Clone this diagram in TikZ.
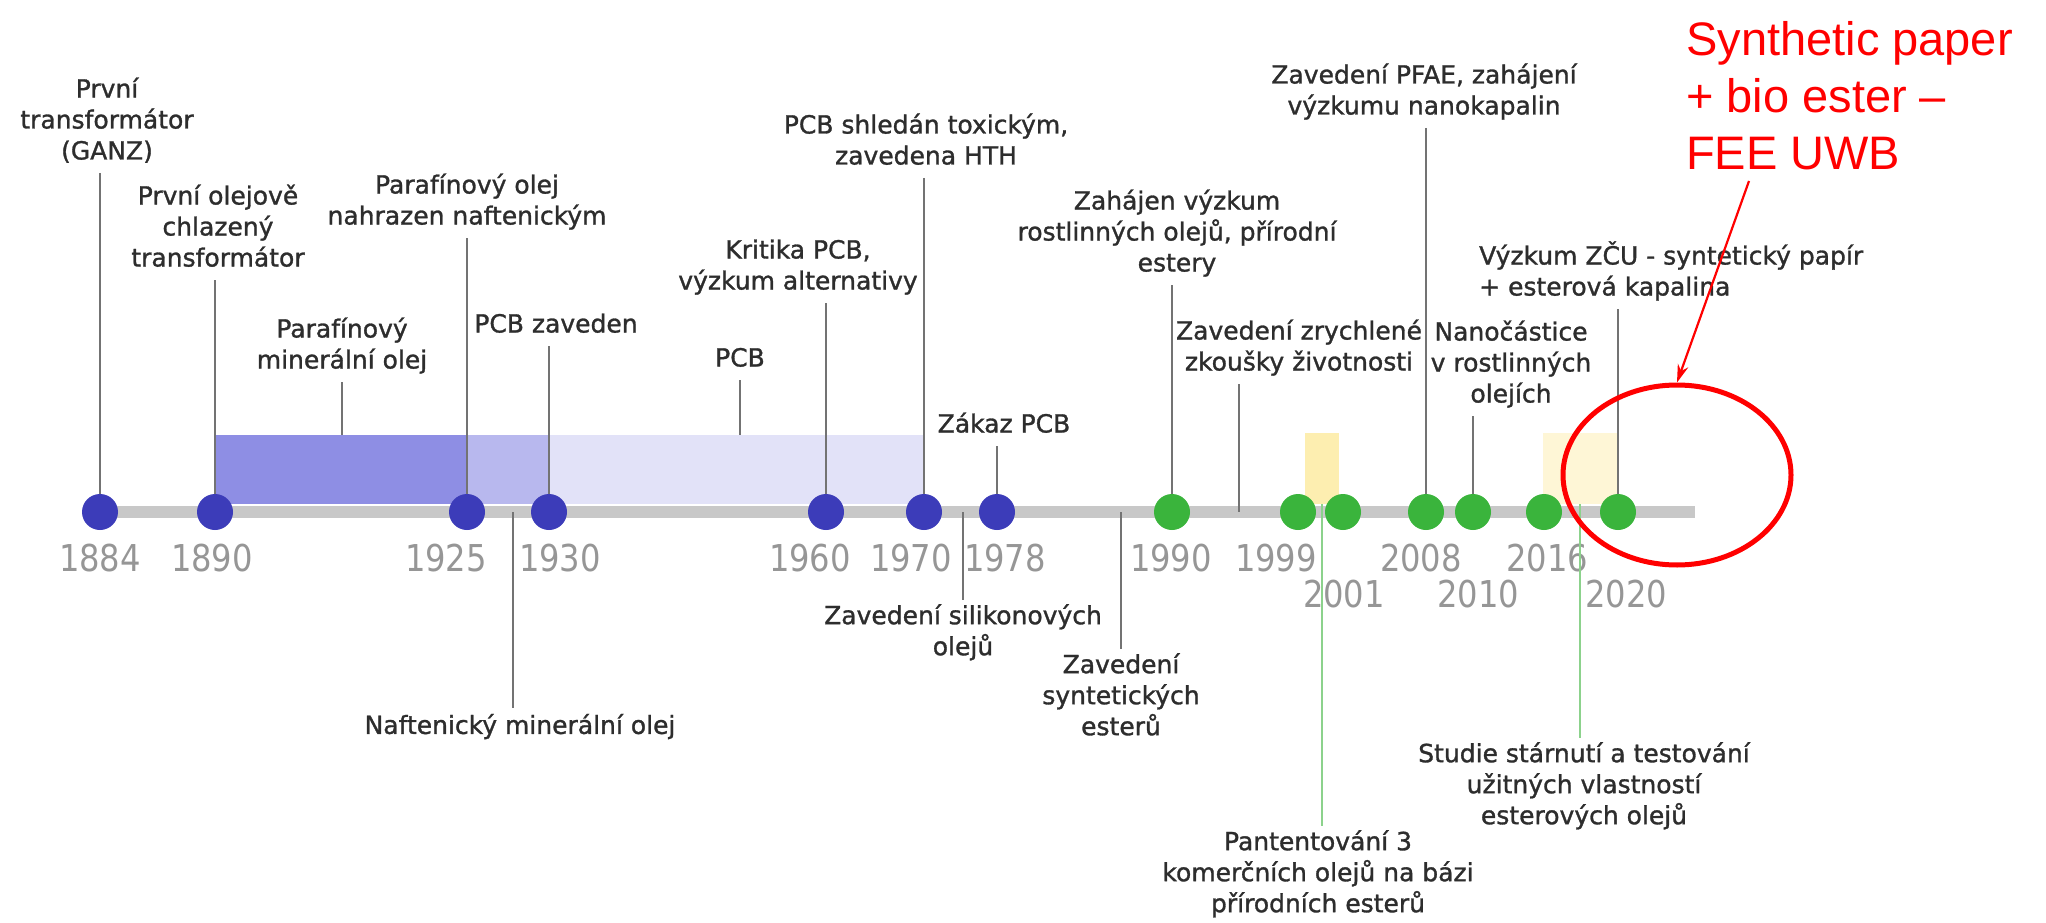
\documentclass[tikz,border=0pt]{standalone}
\usepackage{fontspec}
\setmainfont{DejaVu Sans}
\newfontfamily\labfont{DejaVu Sans}[FakeBold=1.2]
\newfontfamily\yearfont{DejaVu Sans}[FakeStretch=0.87]
\newfontfamily\notefont{Liberation Sans}
\usetikzlibrary{shapes.geometric, arrows.meta, positioning}

\definecolor{dotblue}{RGB}{60,60,185}
\definecolor{dotgreen}{RGB}{58,180,60}
\definecolor{bardark}{RGB}{142,142,228}
\definecolor{barmid}{RGB}{184,184,238}
\definecolor{barlight}{RGB}{226,226,248}
\definecolor{yelbar}{RGB}{253,238,176}
\definecolor{yelbarpale}{RGB}{254,246,214}
\definecolor{axisgray}{RGB}{200,200,200}
\definecolor{conngray}{RGB}{115,115,115}
\definecolor{conngreen}{RGB}{140,210,140}
\definecolor{yeargray}{RGB}{150,150,150}
\definecolor{labgray}{RGB}{45,45,45}
\definecolor{notered}{RGB}{255,0,0}

\begin{document}
\begin{tikzpicture}[x=1pt, y=-1pt,
    lbl/.style={font=\labfont\fontsize{25}{31}\selectfont, text=labgray, align=center, inner sep=4pt,
      execute at begin node={\strut}, execute at end node={\strut}},
    yr/.style={font=\yearfont\fontsize{37}{40}\selectfont, text=yeargray, inner sep=0pt},
    bdot/.style={circle, fill=dotblue, minimum size=36pt, inner sep=0pt},
    gdot/.style={circle, fill=dotgreen, minimum size=36pt, inner sep=0pt},
    bar/.style={rectangle, inner sep=0pt, minimum height=69pt, anchor=south west},
    conn/.style={draw=conngray, line width=1.5pt},
    gconn/.style={draw=conngreen, line width=1.5pt}]
    \useasboundingbox (0,0) rectangle (2046,923);

    % Bars
    \node[bar, fill=bardark, minimum width=252pt] (parbar) at (215,504) {};
    \node[bar, fill=barmid, minimum width=82pt] (nafbar) at (467,504) {};
    \node[bar, fill=barlight, minimum width=375pt] (pcbbar) at (549,504) {};
    \node[bar, fill=yelbar, minimum width=34pt, minimum height=71pt] (ybar1) at (1305,504) {};
    \node[bar, fill=yelbarpale, minimum width=74pt, minimum height=71pt] (ybar2) at (1543,504) {};

    % Axis
    \coordinate (a0) at (95,512);
    \coordinate (a1) at (1695,512);
    \draw[line width=12pt, axisgray] (a0) -- (a1);
    \coordinate (t1927) at (513,512);
    \coordinate (t1974) at (963,512);
    \coordinate (t1985) at (1121,512);
    \coordinate (t1995) at (1239,512);

    % Points
    \node[bdot] (d1884) at (100,512) {};
    \node[bdot] (d1890) at (215,512) {};
    \node[bdot] (d1925) at (467,512) {};
    \node[bdot] (d1930) at (549,512) {};
    \node[bdot] (d1960) at (826,512) {};
    \node[bdot] (d1970) at (924,512) {};
    \node[bdot] (d1978) at (997,512) {};
    \node[gdot] (d1990) at (1172,512) {};
    \node[gdot] (d1999) at (1298,512) {};
    \node[gdot] (d2001) at (1343,512) {};
    \node[gdot] (d2008) at (1426,512) {};
    \node[gdot] (d2010) at (1473,512) {};
    \node[gdot] (d2016) at (1544,512) {};
    \node[gdot] (d2020) at (1618,512) {};

    % Years
    \node[yr] (y1884) at (100,558) {1884};
    \node[yr] (y1890) at (212,558) {1890};
    \node[yr] (y1925) at (446,558) {1925};
    \node[yr] (y1930) at (560,558) {1930};
    \node[yr] (y1960) at (810,558) {1960};
    \node[yr] (y1970) at (911,558) {1970};
    \node[yr] (y1978) at (1005,558) {1978};
    \node[yr] (y1990) at (1171,558) {1990};
    \node[yr] (y1999) at (1276,558) {1999};
    \node[yr] (y2008) at (1421,558) {2008};
    \node[yr] (y2016) at (1547,558) {2016};
    \node[yr] (y2001) at (1344,594) {2001};
    \node[yr] (y2010) at (1478,594) {2010};
    \node[yr] (y2020) at (1626,594) {2020};

    % Labels above
    \node[lbl, anchor=south] (ganz) at (107,173) {První\\transformátor\\(GANZ)};
    \node[lbl, anchor=south] (olej) at (218,280) {První olejově\\chlazený\\transformátor};
    \node[lbl, anchor=south] (nahr) at (467,238) {Parafínový olej\\nahrazen naftenickým};
    \node[lbl, anchor=south] (parmin) at (342,382) {Parafínový\\minerální olej};
    \node[lbl, anchor=south] (pcbzav) at (556,346) {PCB zaveden};
    \node[lbl, anchor=south] (pcb) at (740,380) {PCB};
    \node[lbl, anchor=south] (krit) at (798,303) {Kritika PCB,\\výzkum alternativy};
    \node[lbl, anchor=south] (tox) at (926,178) {PCB shledán toxickým,\\zavedena HTH};
    \node[lbl, anchor=south] (zakaz) at (1004,446) {Zákaz PCB};
    \node[lbl, anchor=south] (zahaj) at (1177,285) {Zahájen výzkum\\rostlinných olejů, přírodní\\estery};
    \node[lbl, anchor=south] (zrych) at (1299,384) {Zavedení zrychlené\\zkoušky životnosti};
    \node[lbl, anchor=south] (pfae) at (1424,128) {Zavedení PFAE, zahájení\\výzkumu nanokapalin};
    \node[lbl, anchor=south] (nano) at (1511,416) {Nanočástice\\v rostlinných\\olejích};
    \node[lbl, anchor=south west, align=left] (zcu) at (1475,309) {Výzkum ZČU - syntetický papír\\+ esterová kapalina};

    % Labels below
    \node[lbl, anchor=north] (naf) at (520,708) {Naftenický minerální olej};
    \node[lbl, anchor=north] (sil) at (963,600) {Zavedení silikonových\\olejů};
    \node[lbl, anchor=north] (syn) at (1121,649) {Zavedení\\syntetických\\esterů};
    \node[lbl, anchor=north] (pat) at (1318,826) {Pantentování 3\\komerčních olejů na bázi\\přírodních esterů};
    \node[lbl, anchor=north] (stud) at (1584,738) {Studie stárnutí a testování\\užitných vlastností\\esterových olejů};

    % Connectors
    \draw[conn] (ganz.south -| d1884) -- (d1884.north);
    \draw[conn] (olej.south -| d1890) -- (d1890.north);
    \draw[conn] (nahr.south -| d1925) -- (d1925.north);
    \draw[conn] (parmin.south) -- (parmin.south |- parbar.north);
    \draw[conn] (pcbzav.south -| d1930) -- (d1930.north);
    \draw[conn] (pcb.south) -- (pcb.south |- pcbbar.north);
    \draw[conn] (krit.south -| d1960) -- (d1960.north);
    \draw[conn] (tox.south -| d1970) -- (d1970.north);
    \draw[conn] (zakaz.south -| d1978) -- (d1978.north);
    \draw[conn] (zahaj.south -| d1990) -- (d1990.north);
    \draw[conn] (zrych.south -| t1995) -- (t1995);
    \draw[conn] (pfae.south -| d2008) -- (d2008.north);
    \draw[conn] (nano.south -| d2010) -- (d2010.north);
    \draw[conn] (zcu.south -| d2020) -- (d2020.north);
    \draw[conn] (t1927) -- (naf.north -| t1927);
    \draw[conn] (t1974) -- (sil.north -| t1974);
    \draw[conn] (t1985) -- (syn.north -| t1985);
    \draw[gconn] (ybar1.south) -- (pat.north -| ybar1.south);
    \draw[gconn] (ybar2.south) -- (stud.north -| ybar2.south);

    % Note
    \node[anchor=north west, inner sep=0pt, align=left, text=notered,
      font=\notefont\fontsize{47}{57}\selectfont] (note) at (1686,21) {Synthetic paper\\+ bio ester –\\FEE UWB};
    \node[ellipse, draw=notered, line width=5pt, minimum width=228pt, minimum height=180pt, inner sep=0pt] (circ) at (1677,475) {};
    \coordinate (arst) at (1749,181);
    \draw[notered, line width=2.2pt, -{Stealth[length=18pt, width=11pt]}] (arst) -- (circ.north);
\end{tikzpicture}
\end{document}
